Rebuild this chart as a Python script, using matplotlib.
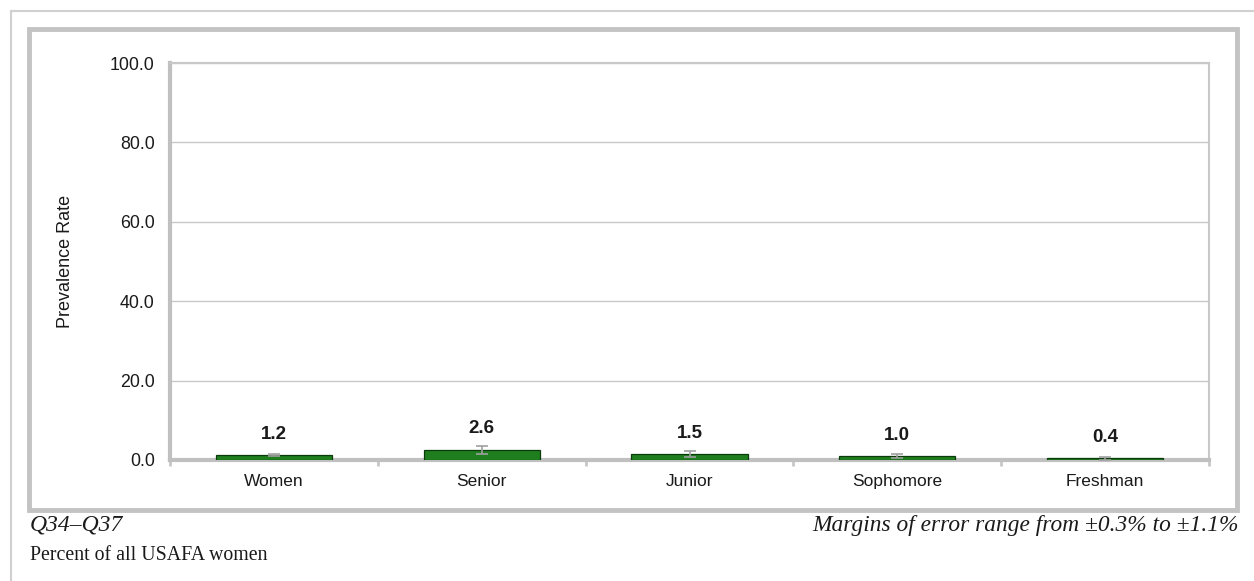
import matplotlib.pyplot as plt
import numpy as np
from matplotlib.patches import Rectangle
from matplotlib.lines import Line2D

# data
groups = ['Women', 'Senior', 'Junior', 'Sophomore', 'Freshman']
rates = [1.2, 2.6, 1.5, 1.0, 0.4]
margins = [0.3, 1.0, 0.7, 0.4, 0.3]
yticks = [0, 20, 40, 60, 80, 100]

plt.rcParams['font.family'] = ['Liberation Sans', 'DejaVu Sans']

W, H = 1254, 581
fig = plt.figure(figsize=(W / 100, H / 100), dpi=100)

# frames around the chart
fig.add_artist(Line2D([11 / W, 11 / W], [0, 1 - 11 / H], transform=fig.transFigure,
                      color='#d0d0d0', lw=1.5))
fig.add_artist(Line2D([11 / W, 1], [1 - 11 / H, 1 - 11 / H], transform=fig.transFigure,
                      color='#d0d0d0', lw=1.5))
fig.add_artist(Rectangle((29 / W, 1 - 510 / H), (1237 - 29) / W, (510 - 29) / H,
                         transform=fig.transFigure, fill=False,
                         edgecolor='#c3c3c3', lw=3.5))

ax = fig.add_axes([170 / W, 1 - 460 / H, (1209 - 170) / W, (460 - 63) / H])

x = np.arange(len(groups))
ax.bar(x, rates, width=0.56, color='#1f7f1f', edgecolor='#0b3b0b', linewidth=0.9, zorder=3)
ax.errorbar(x, rates, yerr=margins, fmt='none', ecolor='#a0a0a0', elinewidth=1.2,
            capsize=4, capthick=1.2, zorder=4)

for xi, r in zip(x, rates):
    ax.annotate(f'{r:.1f}', (xi, r), xytext=(0, 9), textcoords='offset points',
                ha='center', va='bottom', fontsize=13.5, fontweight='bold', color='#1a1a1a')

ax.set_xlim(-0.5, len(groups) - 0.5)
ax.set_ylim(0, 100)
ax.set_yticks(yticks)
ax.set_yticklabels([f'{v:.1f}' for v in yticks])
ax.set_xticks(x)
ax.set_xticklabels(groups)
ax.set_xticks(np.arange(-0.5, len(groups)), minor=True)

ax.tick_params(axis='y', length=0, pad=11, labelsize=12.8, labelcolor='#1a1a1a')
ax.tick_params(axis='x', which='major', length=0, pad=10, labelsize=12.5, labelcolor='#1a1a1a')
ax.tick_params(axis='x', which='minor', length=4, width=2, color='#c8c8c8')

ax.grid(axis='y', color='#c8c8c8', lw=1, zorder=0)
ax.set_axisbelow(True)

for side in ['left', 'bottom']:
    ax.spines[side].set_color('#c0c0c0')
    ax.spines[side].set_linewidth(3)
for side in ['top', 'right']:
    ax.spines[side].set_color('#c8c8c8')
    ax.spines[side].set_linewidth(1.5)

ax.set_ylabel('Prevalence Rate', fontsize=13, color='#1a1a1a')
ax.yaxis.set_label_coords(-96 / (1209 - 170), 0.5)

fig.text(30 / W, 1 - 525 / H, 'Q34–Q37', fontsize=17, style='italic',
         family='Liberation Serif', va='center', ha='left', color='#1a1a1a')
fig.text(30 / W, 1 - 556 / H, 'Percent of all USAFA women', fontsize=14.3,
         family='Liberation Serif', va='center', ha='left', color='#1a1a1a')
fig.text(1239 / W, 1 - 525 / H, 'Margins of error range from ±0.3% to ±1.1%',
         fontsize=16.8, style='italic', family='Liberation Serif',
         va='center', ha='right', color='#1a1a1a')

fig.savefig('out.png', dpi=100)
